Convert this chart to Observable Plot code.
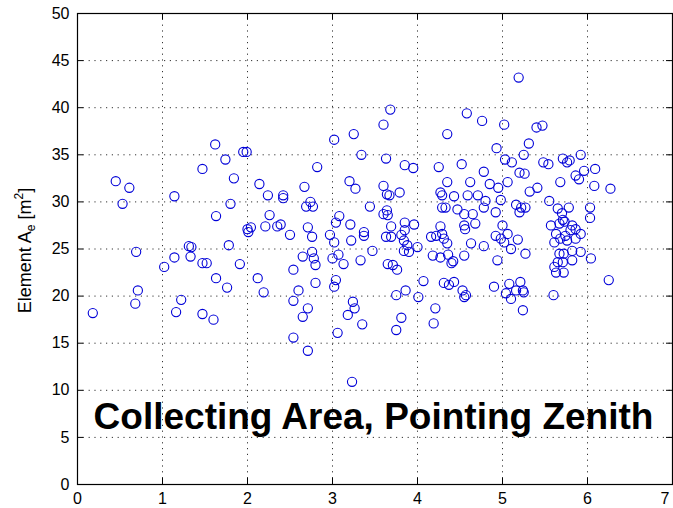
<!DOCTYPE html>
<html><head><meta charset="utf-8">
<script src="https://cdn.jsdelivr.net/npm/d3@7"></script>
<script src="https://cdn.jsdelivr.net/npm/@observablehq/plot@0.6"></script>
<style>body{margin:0;background:#fff}</style>
</head><body><div id="chart"></div>
<script>
const xs = [
 0.18,0.45,0.53,0.61,0.69,0.68,0.71,
 1.14,1.02,1.14,1.31,1.34,1.33,1.22,1.16,1.47,1.52,1.47,1.60,1.63,1.76,1.78,1.91,1.63,1.80,1.84,1.47,1.74,1.95,1.99,1.62,2.00,2.04,2.01,
 2.14,2.19,2.12,2.24,2.42,2.42,2.67,2.82,2.69,2.74,2.77,2.26,2.21,2.35,2.39,2.50,2.71,2.76,2.97,2.65,2.76,2.78,2.80,2.54,2.60,2.54,2.80,2.71,2.65,2.54,2.71,
 3.68,3.60,3.25,3.02,3.34,3.63,3.85,3.95,3.20,3.27,3.60,3.64,3.67,3.79,3.04,3.08,3.21,3.37,3.37,3.44,3.64,3.60,3.65,3.69,3.85,3.96,3.85,3.63,3.69,3.81,3.22,3.02,3.47,
 3.84,3.88,3.84,3.90,4.00,3.00,3.07,3.13,3.33,3.04,3.02,3.24,3.26,3.18,3.35,3.06,3.23,3.65,3.71,3.76,3.75,3.86,3.81,3.75,
 4.07,4.01,4.21,4.19,4.25,4.35,4.16,4.27,4.29,4.35,4.29,4.27,4.29,4.22,4.31,4.35,4.18,4.27,4.36,4.42,4.40,4.31,4.37,4.43,4.58,4.76,4.93,4.52,4.78,4.62,4.85,4.95,
 4.43,4.59,4.71,4.80,4.78,4.98,4.33,4.47,4.55,4.65,4.92,4.55,4.68,4.56,4.63,4.78,4.55,4.92,4.98,4.94,4.53,4.57,4.55,4.90,
 5.19,5.02,5.40,5.47,5.31,5.25,5.03,5.11,5.20,5.26,5.48,5.54,5.71,5.76,5.79,5.92,5.96,5.86,5.90,5.68,5.06,5.32,5.41,5.16,5.22,5.27,5.20,5.55,5.65,5.70,5.78,
 5.57,5.67,5.73,5.82,5.71,5.00,5.06,5.02,5.10,5.18,5.27,5.86,5.80,5.92,5.63,5.68,5.74,5.61,5.76,5.86,5.67,5.72,5.82,5.92,5.65,5.71,5.82,5.63,5.72,5.61,
 5.08,5.21,5.04,5.10,5.16,5.24,5.25,5.24,5.60,
 6.09,6.08,6.27,6.03,6.03,6.04,6.25
];
const ys = [
 18.2,32.2,29.8,31.5,24.7,19.2,20.6,
 30.6,23.1,24.1,25.3,25.2,24.2,19.6,18.3,23.5,23.5,18.1,17.5,21.9,20.9,25.4,23.4,28.5,29.8,32.5,33.5,34.5,35.3,35.3,36.1,27.1,27.3,26.8,
 31.9,20.4,21.9,30.7,30.7,30.4,31.6,33.7,29.5,30.0,29.5,28.6,27.4,27.4,27.6,26.5,27.3,26.3,26.5,24.2,24.7,24.0,23.3,22.8,20.6,19.5,21.4,18.7,17.8,15.6,14.2,
 39.8,38.2,37.2,36.6,35.0,34.6,33.9,33.6,32.2,31.4,31.7,30.8,30.7,31.0,27.8,28.5,27.6,26.8,26.4,29.5,29.1,28.7,28.6,27.4,27.8,27.6,27.0,26.3,26.3,26.5,25.9,25.7,24.8,
 25.9,25.4,24.8,24.7,25.2,24.0,24.4,23.4,23.8,21.7,21.0,19.4,18.7,18.0,17.0,16.1,10.9,23.4,23.3,22.8,20.1,20.6,17.7,16.4,
 21.6,19.9,18.7,17.1,33.7,37.2,26.3,31.0,30.7,32.1,29.4,27.4,26.6,26.4,26.1,25.6,24.3,24.1,24.4,23.7,23.5,21.4,21.2,21.5,39.4,38.6,35.7,34.0,33.2,32.1,31.9,31.5,
 30.6,30.7,30.7,30.1,29.4,30.2,29.4,29.2,28.7,28.7,28.9,27.5,27.7,27.1,25.6,25.3,24.3,26.4,26.1,23.8,20.6,20.1,19.9,21.0,
 43.2,38.2,37.9,38.1,36.2,35.0,34.5,34.2,33.1,33.0,34.2,34.0,34.6,34.2,34.4,35.0,33.3,32.8,32.4,32.1,32.1,31.1,31.5,29.7,29.4,29.4,28.9,30.1,29.3,28.8,29.4,
 27.5,27.7,27.9,27.5,28.1,27.5,26.6,25.7,25.0,26.0,24.5,27.1,27.0,26.6,26.6,26.1,26.4,25.7,25.9,26.1,24.5,24.5,24.8,24.7,23.6,23.6,23.8,22.5,22.5,23.1,
 21.3,21.5,20.3,19.7,20.6,20.6,20.4,18.5,20.1,
 33.5,31.7,31.4,29.4,28.3,24.0,21.7
];
const xTicks = [0,1,2,3,4,5,6,7];
const yTicks = [0,5,10,15,20,25,30,35,40,45,50];
const xGrid = [1,2,3,4,5,6];
const yGrid = [5,10,15,20,25,30,35,40,45];
const titleText = "Collecting Area, Pointing Zenith";

const W = 673, H = 508, mL = 77, mR = 1, mT = 13, mB = 24;
const pw = W - mL - mR, ph = H - mT - mB;
const points = xs.map((x, i) => ({x, y: ys[i]}));
const fmt = d3.format("d");

const plot = Plot.plot({
  width: W, height: H,
  marginLeft: mL, marginRight: mR, marginTop: mT, marginBottom: mB,
  x: {domain: [0, 7]},
  y: {domain: [0, 50]},
  style: {fontFamily: "'Liberation Sans', Arial, sans-serif", background: "white", color: "black"},
  marks: [
    Plot.ruleX(xGrid, {stroke: "#333", strokeDasharray: "1.2,4.6", strokeWidth: 1}),
    Plot.ruleY(yGrid, {stroke: "#333", strokeDasharray: "1.2,4.6", strokeWidth: 1}),
    Plot.dot(points, {x: "x", y: "y", r: 4.6, stroke: "#0000d8", strokeWidth: 1.1, fill: "none"}),
    Plot.ruleX(xTicks, {insetTop: ph - 6, stroke: "black"}),
    Plot.ruleX(xTicks, {insetBottom: ph - 6, stroke: "black"}),
    Plot.ruleY(yTicks, {insetRight: pw - 6, stroke: "black"}),
    Plot.ruleY(yTicks, {insetLeft: pw - 6, stroke: "black"}),
    Plot.frame({stroke: "black", strokeWidth: 1.2}),
    Plot.axisX(xTicks.slice(0, -1), {tickSize: 0, tickPadding: 8, fontSize: 16, label: null, tickFormat: fmt}),
    Plot.axisX(xTicks.slice(-1), {tickSize: 0, tickPadding: 8, fontSize: 16, label: null, tickFormat: fmt, textAnchor: "end", dx: -3}),
    Plot.axisY(yTicks, {tickSize: 0, tickPadding: 8, fontSize: 16, label: null, tickFormat: fmt}),
    Plot.text([titleText], {frameAnchor: "bottom", dx: -1.5, dy: -56, fontSize: 37, fontWeight: "bold", fill: "black"})
  ]
});

const svg = d3.select(plot);
const lab = svg.append("text")
  .attr("transform", `translate(31,${(mT + H - mB) / 2 + 2}) rotate(-90)`)
  .attr("text-anchor", "middle")
  .attr("font-size", 18)
  .attr("font-family", "'Liberation Sans', Arial, sans-serif")
  .attr("fill", "black");
lab.append("tspan").text("Element A");
lab.append("tspan").attr("font-size", 12).attr("dy", 4).text("e");
lab.append("tspan").attr("dy", -4).text(" [m");
lab.append("tspan").attr("font-size", 12).attr("dy", -8).text("2");
lab.append("tspan").attr("dy", 8).text("]");

document.getElementById("chart").appendChild(plot);
</script>
</body></html>
